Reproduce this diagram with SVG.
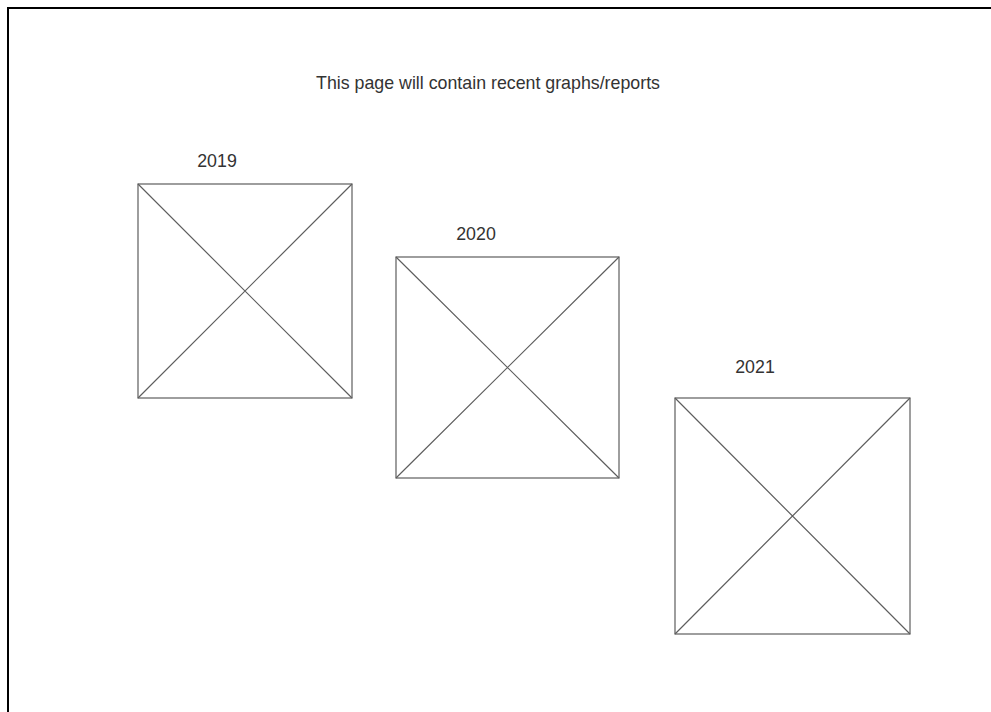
<svg xmlns="http://www.w3.org/2000/svg" width="991" height="712" viewBox="0 0 991 712">
<style>
.t{font-family:"Liberation Sans",Arial,sans-serif;font-size:17.8px;fill:#333333;text-anchor:middle}
.b{fill:#ffffff;stroke:#5e5e5e;stroke-width:1.2}
.x{stroke:#5e5e5e;stroke-width:1.2;fill:none}
</style>
<rect x="0" y="0" width="991" height="712" fill="#ffffff"/>
<path d="M8 720 V8 H1000" fill="none" stroke="#000000" stroke-width="2"/>
<g id="title"><text class="t" x="488" y="89">This page will contain recent graphs/reports</text></g>
<g id="box2019">
<text class="t" x="217" y="167">2019</text>
<rect class="b" x="138" y="184" width="214" height="214"/>
<path class="x" d="M138 184 L352 398 M352 184 L138 398"/>
</g>
<g id="box2020">
<text class="t" x="476" y="240">2020</text>
<rect class="b" x="396" y="257" width="223" height="221"/>
<path class="x" d="M396 257 L619 478 M619 257 L396 478"/>
</g>
<g id="box2021">
<text class="t" x="755" y="373">2021</text>
<rect class="b" x="675" y="398" width="235" height="236"/>
<path class="x" d="M675 398 L910 634 M910 398 L675 634"/>
</g>
<g id="connectors"></g>
</svg>
